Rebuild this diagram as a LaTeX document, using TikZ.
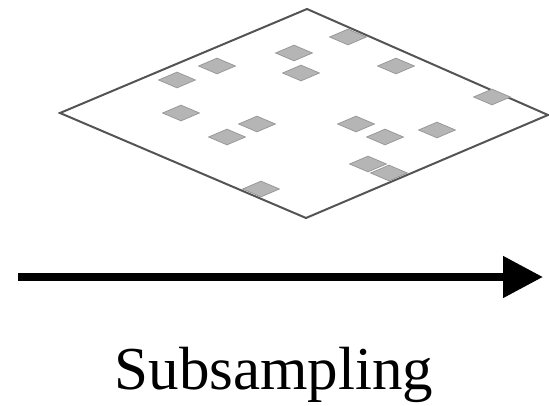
\documentclass[tikz,border=0pt]{standalone}
\usepackage{fontspec}
\setmainfont{Liberation Serif}
\usetikzlibrary{shapes.geometric,arrows.meta}
\begin{document}
\begin{tikzpicture}[x=1pt,y=-1pt,
  plate/.style={draw=black!67,line width=2pt,line join=miter},
  cell/.style={diamond,draw=black!40,fill=black!29,line width=0.8pt,inner sep=0pt,minimum width=37pt,minimum height=16pt},
  bigarrow/.style={line width=8pt,-{Triangle[length=40pt,width=40pt]}},
  label/.style={font=\fontsize{61}{70}\selectfont,anchor=base,inner sep=0pt}]
\useasboundingbox (0,0) rectangle (549,406);
\coordinate (L) at (60,113);
\coordinate (T) at (307,9);
\coordinate (R) at (548,115);
\coordinate (B) at (306,218);
\draw[plate] (L) -- (T) -- (R) -- (B) -- cycle;
\node[cell] (c1) at (348,37) {};
\node[cell] (c2) at (294,53) {};
\node[cell] (c3) at (217,66) {};
\node[cell] (c4) at (177,80) {};
\node[cell] (c5) at (301,73) {};
\node[cell] (c6) at (396,66) {};
\node[cell] (c7) at (492,97) {};
\node[cell] (c8) at (181,113) {};
\node[cell] (c9) at (257,124) {};
\node[cell] (c10) at (227,137) {};
\node[cell] (c11) at (356,124) {};
\node[cell] (c12) at (385,137) {};
\node[cell] (c13) at (437,130) {};
\node[cell] (c14) at (368,164) {};
\node[cell] (c15) at (389,173) {};
\node[cell] (c16) at (261,189) {};
\coordinate (As) at (18,277);
\coordinate (Ae) at (543,277);
\draw[bigarrow] (As) -- (Ae);
\node[label] (txt) at (274,389) {Subsampling};
\end{tikzpicture}
\end{document}
